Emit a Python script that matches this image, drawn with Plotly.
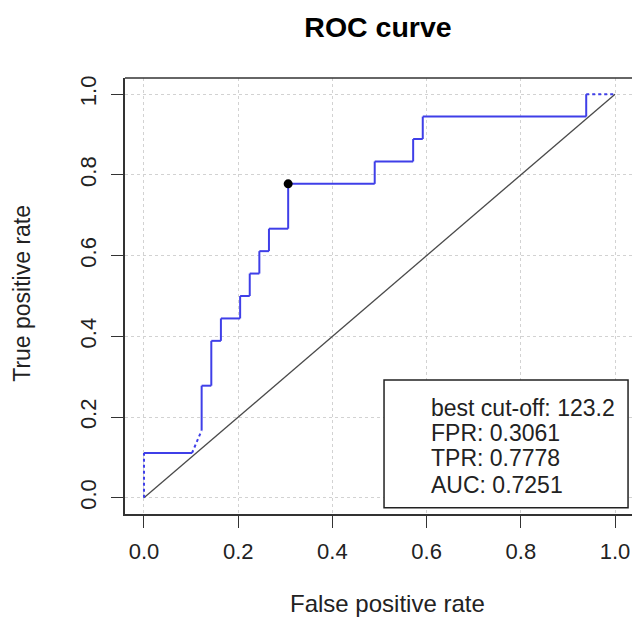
import plotly.graph_objects as go

# ROC curve points (step curve)
fpr = [0.0, 0.0, 0.1020, 0.1224, 0.1224, 0.1429, 0.1429, 0.1633, 0.1633,
       0.2041, 0.2041, 0.2245, 0.2245, 0.2449, 0.2449, 0.2653, 0.2653,
       0.3061, 0.3061, 0.4898, 0.4898, 0.5714, 0.5714, 0.5918, 0.5918,
       0.9388, 0.9388, 1.0]
tpr = [0.0, 0.1111, 0.1111, 0.1667, 0.2778, 0.2778, 0.3889, 0.3889, 0.4444,
       0.4444, 0.5000, 0.5000, 0.5556, 0.5556, 0.6111, 0.6111, 0.6667,
       0.6667, 0.7778, 0.7778, 0.8333, 0.8333, 0.8889, 0.8889, 0.9444,
       0.9444, 1.0, 1.0]
# segment i joins point i and i+1; True = dotted (tied scores)
dotted_seg = [True, False, True] + [False] * 23 + [True]

best_fpr = [0.3061]
best_tpr = [0.7778]
diag = [0.0, 1.0]

ticks = [0.0, 0.2, 0.4, 0.6, 0.8, 1.0]
tick_text = ["0.0", "0.2", "0.4", "0.6", "0.8", "1.0"]

legend_lines = ["best cut-off: 123.2", "FPR: 0.3061", "TPR: 0.7778", "AUC: 0.7251"]

# build solid / dotted paths from segments
sx, sy, dx, dy = [], [], [], []
for i, dot in enumerate(dotted_seg):
    if dot:
        dx += [fpr[i], fpr[i + 1], None]
        dy += [tpr[i], tpr[i + 1], None]
    else:
        sx += [fpr[i], fpr[i + 1], None]
        sy += [tpr[i], tpr[i + 1], None]

FONT = "Liberation Sans, Arial, sans-serif"
BLUE = "#3f3fe8"

fig = go.Figure()
fig.add_trace(go.Scatter(x=diag, y=diag, mode="lines",
                         line=dict(color="#4a4a4a", width=1.3), hoverinfo="skip"))
fig.add_trace(go.Scatter(x=sx, y=sy, mode="lines",
                         line=dict(color=BLUE, width=2), connectgaps=False))
fig.add_trace(go.Scatter(x=dx, y=dy, mode="lines",
                         line=dict(color=BLUE, width=2, dash="dot"), connectgaps=False))
fig.add_trace(go.Scatter(x=best_fpr, y=best_tpr, mode="markers",
                         marker=dict(color="black", size=9)))

axis_common = dict(
    tickvals=ticks, ticktext=tick_text, ticks="outside", ticklen=12,
    tickwidth=1.3, tickcolor="#333", showgrid=True, gridcolor="#d2d2d2",
    griddash="dot", gridwidth=1.3, zeroline=False, showline=True,
    linecolor="#333", linewidth=1.5, mirror=False,
    tickfont=dict(family=FONT, size=22, color="#222"),
)

fig.update_xaxes(range=[-0.0403, 1.036], ticklabelstandoff=5, **axis_common)
fig.update_yaxes(range=[-0.04, 1.04], tickangle=-90, ticklabelstandoff=6, **axis_common)

# top border of the box
fig.add_shape(type="line", xref="paper", yref="paper", x0=0, x1=1, y0=1, y1=1,
              line=dict(color="#333", width=1.5))

# info box
fig.add_shape(type="rect", xref="x", yref="y", x0=0.5096, x1=1.0276, y0=-0.0248, y1=0.292,
              line=dict(color="#222", width=1.5), fillcolor="white", layer="above")
ys = [0.2228, 0.161, 0.099, 0.033]
for txt, yy in zip(legend_lines, ys):
    fig.add_annotation(x=0.605, y=yy, xref="x", yref="y", text=txt, showarrow=False,
                       xanchor="left", yanchor="middle",
                       font=dict(family=FONT, size=23, color="#222"))

fig.add_annotation(x=0.517, y=-0.205, xref="paper", yref="paper", text="False positive rate",
                   showarrow=False, xanchor="center", yanchor="middle",
                   font=dict(family=FONT, size=24, color="#222"))
fig.add_annotation(x=(22 - 125) / 507, y=0.505, xref="paper", yref="paper",
                   text="True positive rate",
                   showarrow=False, textangle=-90, xanchor="center", yanchor="middle",
                   font=dict(family=FONT, size=23, color="#222"))

fig.update_layout(
    width=632, height=617,
    margin=dict(l=125, r=0, t=78, b=103, pad=0),
    paper_bgcolor="white", plot_bgcolor="white",
    showlegend=False,
    title=dict(text="ROC curve", x=378 / 632, xanchor="center", xref="container",
               y=1 - 27 / 617, yanchor="middle", yref="container",
               font=dict(family=FONT, size=28.5, color="black", weight="bold")),
)

fig.write_html("out.html")
